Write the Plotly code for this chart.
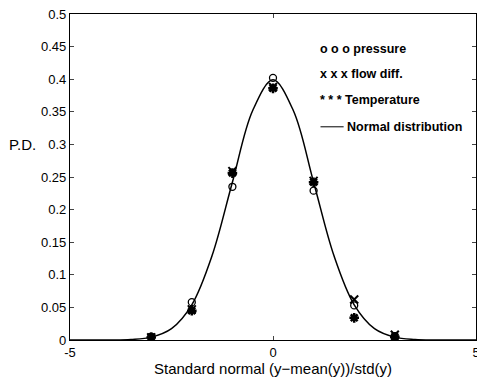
import plotly.graph_objects as go

# data
x_pts = [-3, -2, -1, 0, 1, 2, 3]
pressure = [0.005, 0.058, 0.235, 0.402, 0.229, 0.053, 0.005]
flow_diff = [0.004, 0.047, 0.259, 0.388, 0.244, 0.062, 0.008]
temperature = [0.004, 0.045, 0.256, 0.386, 0.242, 0.034, 0.005]

curve_x = [-5, -4.5, -4, -3.5, -3, -2.5, -2, -1.5, -1, -0.5, 0,
           0.5, 1, 1.5, 2, 2.5, 3, 3.5, 4, 4.5, 5]
curve_y = [0.0, 0.0, 0.0001, 0.0009, 0.0044, 0.0175, 0.054, 0.1295, 0.242, 0.352, 0.399,
           0.352, 0.242, 0.1295, 0.054, 0.0175, 0.0044, 0.0009, 0.0001, 0.0, 0.0]

legend_labels = ["o o o pressure", "x x x flow diff.", "* * * Temperature", "Normal distribution"]

fig = go.Figure()
fig.add_trace(go.Scatter(x=curve_x, y=curve_y, mode="lines", line=dict(color="black", width=1.5, shape="spline", smoothing=1.0),
                         showlegend=False))
fig.add_trace(go.Scatter(x=x_pts, y=pressure, mode="markers", showlegend=False,
                         marker=dict(symbol="circle-open", size=7, color="black", line=dict(width=1.3, color="black"))))
fig.add_trace(go.Scatter(x=x_pts, y=flow_diff, mode="markers", showlegend=False,
                         marker=dict(symbol="x-thin-open", size=8, color="black", line=dict(width=2, color="black"))))
fig.add_trace(go.Scatter(x=x_pts, y=temperature, mode="markers", showlegend=False,
                         marker=dict(symbol="asterisk-open", size=8, color="black", line=dict(width=2.5, color="black"))))

font = "Liberation Sans, Arial, Helvetica, sans-serif"
leg_y = [0.446, 0.408, 0.368, 0.327]
for i, lab in enumerate(legend_labels[:3]):
    fig.add_annotation(x=1.12, y=leg_y[i], text="<b>" + lab + "</b>", showarrow=False, xanchor="left", yanchor="middle",
                       font=dict(family=font, size=12.5, color="black"))
fig.add_annotation(x=1.83, y=leg_y[3], text="<b>" + legend_labels[3] + "</b>", showarrow=False, xanchor="left",
                   yanchor="middle", xshift=-2,
                   font=dict(family=font, size=12.5, color="black"))
fig.add_shape(type="line", x0=1.17, x1=1.74, y0=leg_y[3], y1=leg_y[3], line=dict(color="black", width=1))

fig.add_annotation(x=0, xref="paper", xshift=-32, y=0.3, text="P.D.", showarrow=False, xanchor="right", yanchor="middle",
                   font=dict(family=font, size=15, color="black"))

fig.update_xaxes(range=[-5, 5], tickvals=[-5, 0, 5], ticktext=["-5", "0", "5"], ticks="inside", ticklen=4,
                 ticklabeloverflow="allow", automargin=False,
                 showline=True, linecolor="black", linewidth=1.3, mirror="ticks", showgrid=False, zeroline=False,
                 tickfont=dict(family=font, size=13, color="black"),
                 title=dict(text="Standard normal (y\u2212mean(y))/std(y)", font=dict(family=font, size=15, color="black"),
                            standoff=2))
fig.update_yaxes(range=[0, 0.5], ticks="inside", ticklen=4, automargin=False,
                 tickvals=[0, 0.05, 0.1, 0.15, 0.2, 0.25, 0.3, 0.35, 0.4, 0.45, 0.5],
                 ticktext=["0", "0.05", "0.1", "0.15", "0.2", "0.25", "0.3", "0.35", "0.4", "0.45", "0.5"],
                 showline=True, linecolor="black", linewidth=1.3, mirror="ticks", showgrid=False, zeroline=False,
                 tickfont=dict(family=font, size=13, color="black"))

fig.update_layout(width=477, height=381, margin=dict(l=70, r=1, t=14, b=41),
                  plot_bgcolor="white", paper_bgcolor="white", showlegend=False)
fig.write_html("out.html")
